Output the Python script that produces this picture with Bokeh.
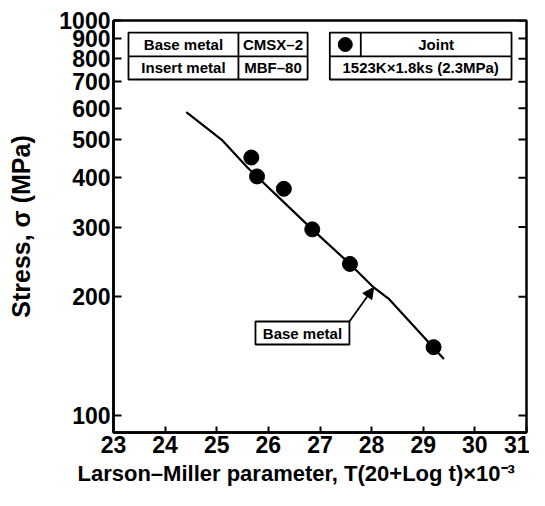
import math
from bokeh.plotting import figure
from bokeh.models import FixedTicker, Arrow, NormalHead, Title
from bokeh.core.properties import value
from bokeh.embed import file_html
from bokeh.resources import INLINE

# ---- data ----
joint_lmp = [25.67, 25.78, 26.30, 26.85, 27.58, 29.20]
joint_stress = [450, 403, 375, 296, 242, 149]

base_lmp = [24.41, 25.11, 25.59, 26.85, 27.58, 28.04, 28.34, 29.40]
base_stress = [586, 497, 425, 296, 242, 211, 197, 139]

x_ticks = [23, 24, 25, 26, 27, 28, 29, 30, 31]
y_ticks = [100, 200, 300, 400, 500, 600, 700, 800, 900, 1000]
y_tick_labels = ["100", "200", "300", "400", "500", "600", "700", "800", "900", "1000"]

x_label = "Larson–Miller parameter, T(20+Log t)×10⁻³"
y_label = "Stress, σ (MPa)"

table1_rows = [["Base metal", "CMSX–2"], ["Insert metal", "MBF–80"]]
table2_header = "Joint"
table2_cond = "1523K×1.8ks (2.3MPa)"
callout_text = "Base metal"

# ---- annotation placement (data coords) ----
X_RANGE = (23, 31)
Y_RANGE = (90.6, 1000)
t1_x = [23.29, 25.42, 26.76]
t2_x = [27.19, 27.79, 30.71]
t_y = [932, 811, 709]
callout_box = dict(left=25.75, right=27.57, top=173, bottom=151.3)
arrow_from = (27.57, 173)
arrow_to = (28.04, 211)

FONT = "Liberation Sans"
FRAME_W = 413

p = figure(width=529, height=490, x_range=X_RANGE, y_range=Y_RANGE,
           y_axis_type="log", output_backend="svg", toolbar_location=None,
           min_border_left=113, min_border_right=3, min_border_top=20,
           min_border_bottom=58)
p.grid.visible = False
p.outline_line_color = "black"
p.outline_line_width = 2.5
p.background_fill_color = "white"

# axes
xa = p.xaxis[0]
xa.ticker = FixedTicker(ticks=x_ticks)
xa.major_label_text_font = FONT
xa.major_label_text_font_style = "bold"
xa.major_label_text_font_size = "23px"
xa.major_label_text_color = "black"
xa.major_label_standoff = 3
xa.major_tick_in = 6
xa.major_tick_out = 0
xa.minor_tick_line_color = None
xa.axis_line_width = 2.5
xa.axis_line_color = "black"
xa.major_tick_line_width = 2

ya = p.yaxis[0]
ya.ticker = FixedTicker(ticks=y_ticks)
ya.major_label_overrides = {t: l for t, l in zip(y_ticks, y_tick_labels)}
ya.axis_label = y_label
ya.axis_label_text_font = FONT
ya.axis_label_text_font_style = "bold"
ya.axis_label_text_font_size = "25px"
ya.axis_label_text_color = "black"
ya.axis_label_standoff = 21
ya.major_label_text_font = FONT
ya.major_label_text_font_style = "bold"
ya.major_label_text_font_size = "23px"
ya.major_label_text_color = "black"
ya.major_label_standoff = 3
ya.major_tick_in = 8
ya.major_tick_out = 0
ya.minor_tick_line_color = None
ya.axis_line_width = 2.5
ya.axis_line_color = "black"
ya.major_tick_line_width = 2

# x axis label as a title below the axis, starting left of the frame as in the original
p.add_layout(Title(text=x_label, align="left", offset=-36, standoff=7,
                   text_font=FONT, text_font_style="bold", text_font_size="22px",
                   text_color="black"), "below")

# inward ticks on right edge, from the same tick list
tick_len = (X_RANGE[1] - X_RANGE[0]) * 8 / FRAME_W
p.segment(x0=[X_RANGE[1]] * len(y_ticks), y0=y_ticks,
          x1=[X_RANGE[1] - tick_len] * len(y_ticks), y1=y_ticks,
          line_color="black", line_width=2)

# base metal curve and joint points
p.line(base_lmp, base_stress, line_color="black", line_width=2.2)
p.scatter(joint_lmp, joint_stress, size=15, marker="circle",
          fill_color="black", line_color="black")

def gmid(a, b):
    return math.sqrt(a * b)

# table 1
p.quad(left=[t1_x[0]], right=[t1_x[2]], top=[t_y[0]], bottom=[t_y[2]],
       fill_color="white", line_color="black", line_width=1.8)
p.segment(x0=[t1_x[0], t1_x[1]], y0=[t_y[1], t_y[0]],
          x1=[t1_x[2], t1_x[1]], y1=[t_y[1], t_y[2]],
          line_color="black", line_width=1.8)
tx, ty, tt = [], [], []
for r, row in enumerate(table1_rows):
    yc = gmid(t_y[r], t_y[r + 1])
    for c, txt in enumerate(row):
        tx.append((t1_x[c] + t1_x[c + 1]) / 2)
        ty.append(yc)
        tt.append(txt)
# table 2
p.quad(left=[t2_x[0]], right=[t2_x[2]], top=[t_y[0]], bottom=[t_y[2]],
       fill_color="white", line_color="black", line_width=1.8)
p.segment(x0=[t2_x[0], t2_x[1]], y0=[t_y[1], t_y[0]],
          x1=[t2_x[2], t2_x[1]], y1=[t_y[1], t_y[1]],
          line_color="black", line_width=1.8)
p.scatter([(t2_x[0] + t2_x[1]) / 2], [gmid(t_y[0], t_y[1])], size=14,
          marker="circle", fill_color="black", line_color="black")
tx.append((t2_x[1] + t2_x[2]) / 2); ty.append(gmid(t_y[0], t_y[1])); tt.append(table2_header)
tx.append((t2_x[0] + t2_x[2]) / 2); ty.append(gmid(t_y[1], t_y[2])); tt.append(table2_cond)

# callout
p.quad(left=[callout_box["left"]], right=[callout_box["right"]],
       top=[callout_box["top"]], bottom=[callout_box["bottom"]],
       fill_color="white", line_color="black", line_width=1.8)
tx.append((callout_box["left"] + callout_box["right"]) / 2)
ty.append(gmid(callout_box["top"], callout_box["bottom"]))
tt.append(callout_text)

p.text(x=tx, y=ty, text=tt, text_font=value(FONT), text_font_style="bold",
       text_font_size="15px", text_align="center", text_baseline="middle",
       text_color="black")

p.add_layout(Arrow(end=NormalHead(size=11, fill_color="black", line_color="black"),
                   x_start=arrow_from[0], y_start=arrow_from[1],
                   x_end=arrow_to[0], y_end=arrow_to[1],
                   line_color="black", line_width=1.8))

open("out.html", "w").write(file_html(p, INLINE))
